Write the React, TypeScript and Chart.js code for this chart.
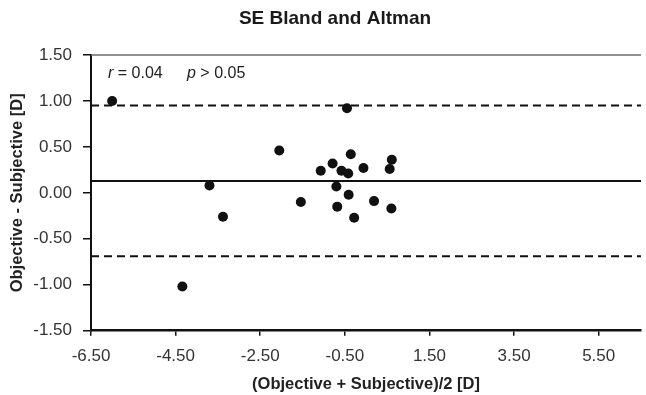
import React, { useEffect, useRef } from "react";
import { Chart, registerables } from "chart.js";

Chart.register(...registerables);

// ---- Data ----
const chartTitle = "SE Bland and Altman";
const xAxisTitle = "(Objective + Subjective)/2 [D]";
const yAxisTitle = "Objective - Subjective [D]";

// mean of the two methods (x) and their difference (y)
const meanValues = [-6.0, -4.34, -3.7, -3.38, -2.05, -1.54, -1.07, -0.79, -0.7, -0.68, -0.58, -0.45, -0.42, -0.41, -0.36, -0.28, -0.06, 0.19, 0.56, 0.61, 0.6];
const diffValues = [1.0, -1.02, 0.08, -0.26, 0.46, -0.1, 0.24, 0.32, 0.07, -0.15, 0.24, 0.92, 0.21, -0.02, 0.42, -0.27, 0.27, -0.09, 0.26, 0.36, -0.17];

const xTicks = [-6.5, -4.5, -2.5, -0.5, 1.5, 3.5, 5.5];
const yTicks = [-1.5, -1.0, -0.5, 0.0, 0.5, 1.0, 1.5];
const xRange = [-6.5, 6.5];
const yRange = [-1.5, 1.5];

const biasValue = 0.13;
const upperLimit = 0.95;
const lowerLimit = -0.69;

const rSymbol = "r";
const rText = " = 0.04";
const pSymbol = "p";
const pText = " > 0.05";

const SANS = "'Liberation Sans', Arial, sans-serif";

const decorPlugin = {
  id: "decor",
  beforeDatasetsDraw(chart: any) {
    const { ctx, chartArea } = chart;
    ctx.save();
    ctx.strokeStyle = "#6a6a6a";
    ctx.lineWidth = 1.5;
    ctx.beginPath();
    ctx.moveTo(chartArea.left, chartArea.top);
    ctx.lineTo(chartArea.right, chartArea.top);
    ctx.stroke();
    ctx.restore();
  },
  afterDraw(chart: any) {
    const { ctx, chartArea } = chart;
    ctx.save();
    // title
    ctx.fillStyle = "#1a1a1a";
    ctx.font = `bold 19px ${SANS}`;
    ctx.textAlign = "center";
    ctx.textBaseline = "middle";
    ctx.fillText(chartTitle, chart.width / 2 + 12, 19);
    // annotation
    ctx.textAlign = "left";
    ctx.fillStyle = "#222";
    let x = chartArea.left + 17;
    const y = chartArea.top + 18.5;
    ctx.font = `italic 16px ${SANS}`;
    ctx.fillText(rSymbol, x, y);
    x += ctx.measureText(rSymbol).width;
    ctx.font = `16px ${SANS}`;
    ctx.fillText(rText, x, y);
    x = chartArea.left + 96;
    ctx.font = `italic 16px ${SANS}`;
    ctx.fillText(pSymbol, x, y);
    x += ctx.measureText(pSymbol).width;
    ctx.font = `16px ${SANS}`;
    ctx.fillText(pText, x, y);
    ctx.restore();
  },
};

function hLine(value: number, dashed: boolean) {
  return {
    type: "line" as const,
    data: [
      { x: xRange[0], y: value },
      { x: xRange[1], y: value },
    ],
    showLine: true,
    borderColor: "#111",
    borderWidth: 2,
    borderDash: dashed ? [8, 5] : [],
    pointRadius: 0,
    fill: false,
    order: 2,
  };
}

export default function App() {
  const canvasRef = useRef<HTMLCanvasElement | null>(null);

  useEffect(() => {
    document.body.style.margin = "0";
    const canvas = canvasRef.current;
    if (!canvas) return;
    const points = meanValues.map((m, i) => ({ x: m, y: diffValues[i] }));
    const chart = new Chart(canvas, {
      type: "scatter",
      data: {
        datasets: [
          {
            type: "scatter",
            data: points,
            backgroundColor: "#111",
            borderColor: "#111",
            borderWidth: 0,
            pointRadius: 5,
            order: 0,
          } as any,
          hLine(biasValue, false) as any,
          hLine(upperLimit, true) as any,
          hLine(lowerLimit, true) as any,
        ],
      },
      options: {
        animation: false,
        responsive: false,
        devicePixelRatio: 1,
        layout: { padding: { top: 55, left: 0, right: 0, bottom: 0 } },
        plugins: {
          legend: { display: false },
          tooltip: { enabled: false },
          title: { display: false },
        },
        scales: {
          x: {
            type: "linear",
            min: xRange[0],
            max: xRange[1],
            afterBuildTicks: (scale: any) => {
              scale.ticks = xTicks.map((v) => ({ value: v }));
            },
            afterFit: (scale: any) => {
              scale.height = 64.3;
            },
            grid: {
              display: true,
              drawOnChartArea: false,
              drawTicks: true,
              tickLength: 5,
              color: "#111",
              lineWidth: 1.5,
            },
            border: { display: true, color: "#111", width: 2.5 },
            ticks: {
              autoSkip: false,
              maxRotation: 0,
              padding: 10,
              color: "#333",
              font: { family: SANS, size: 17 },
              callback: (v: any) => Number(v).toFixed(2),
            },
            title: {
              display: true,
              text: xAxisTitle,
              color: "#222",
              font: { family: SANS, size: 16.5, weight: "bold" },
              padding: { top: 0, bottom: 1 },
            },
          },
          y: {
            type: "linear",
            min: yRange[0],
            max: yRange[1],
            afterBuildTicks: (scale: any) => {
              scale.ticks = yTicks.map((v) => ({ value: v }));
            },
            afterFit: (scale: any) => {
              scale.width = 91;
            },
            grid: {
              display: true,
              drawOnChartArea: false,
              drawTicks: true,
              tickLength: 8,
              color: "#111",
              lineWidth: 1.5,
            },
            border: { display: true, color: "#111", width: 2 },
            ticks: {
              autoSkip: false,
              padding: 11,
              color: "#333",
              font: { family: SANS, size: 17 },
              callback: (v: any) => Number(v).toFixed(2),
            },
            title: {
              display: true,
              text: yAxisTitle,
              color: "#222",
              font: { family: SANS, size: 16.5, weight: "bold" },
              padding: { top: 8, bottom: 0 },
            },
          },
        },
      },
      plugins: [decorPlugin],
    });
    return () => chart.destroy();
  }, []);

  return (
    <div style={{ width: 646, height: 395, background: "#fff" }}>
      <canvas ref={canvasRef} width={646} height={395} style={{ display: "block" }} />
    </div>
  );
}
